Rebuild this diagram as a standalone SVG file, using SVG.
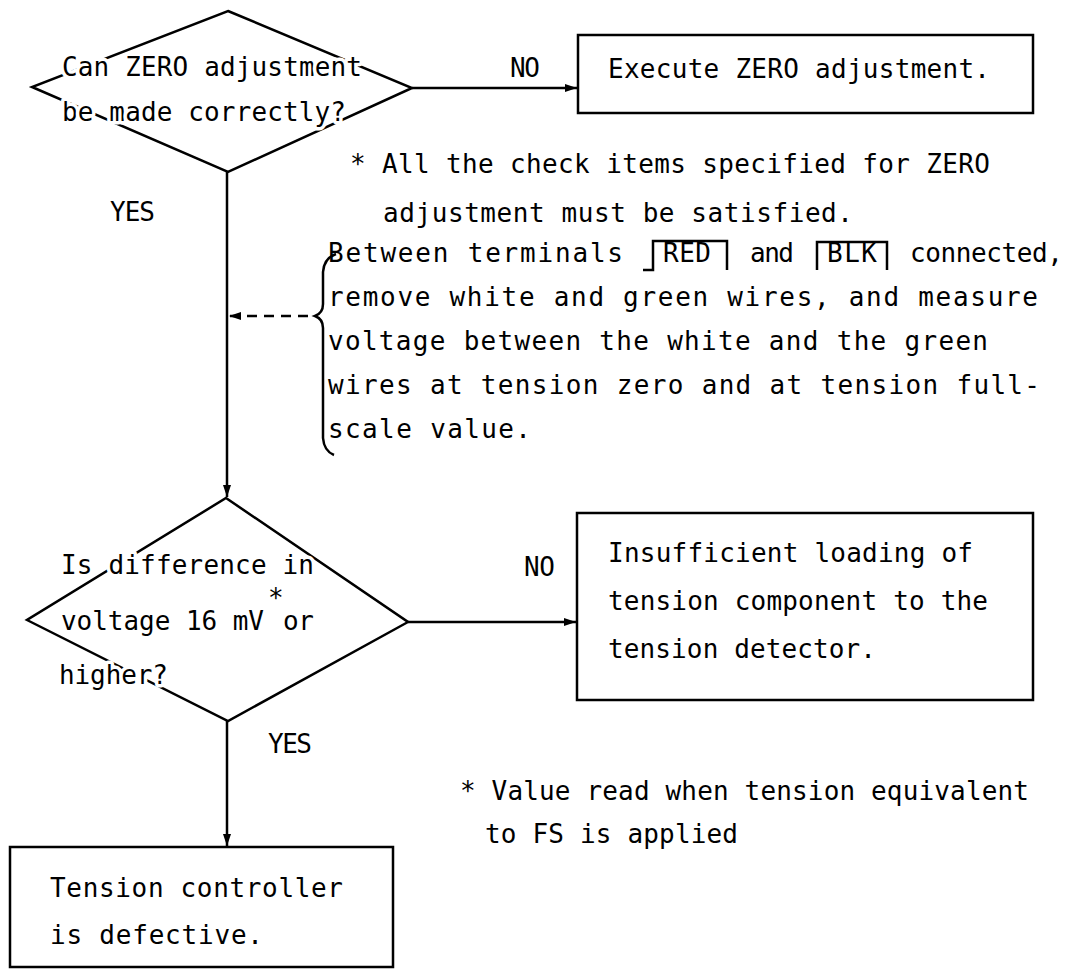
<svg xmlns="http://www.w3.org/2000/svg" width="1077" height="970" viewBox="0 0 1077 970">
<style>
.t{font-family:"DejaVu Sans Mono","Liberation Mono",monospace;font-size:26px;fill:#000}
.h{paint-order:stroke;stroke:#fff;stroke-width:7px;stroke-linejoin:round}
.s{stroke:#000;stroke-width:2.5;fill:none}
.b{stroke:#000;stroke-width:2.5;fill:#fff}
</style>
<defs>
<marker id="ah" markerUnits="userSpaceOnUse" markerWidth="12" markerHeight="8" refX="12" refY="4" orient="auto">
<path d="M0,0 L12,4 L0,8 z" fill="#000"/>
</marker>
</defs>
<rect width="1077" height="970" fill="#fff"/>
<g id="connectors">
<line class="s" x1="412" y1="88" x2="577" y2="88" marker-end="url(#ah)"/>
<line class="s" x1="227" y1="172" x2="227" y2="497" marker-end="url(#ah)"/>
<line class="s" x1="308" y1="316" x2="229" y2="316" stroke-dasharray="10,7" marker-end="url(#ah)"/>
<line class="s" x1="408" y1="622" x2="576" y2="622" marker-end="url(#ah)"/>
<line class="s" x1="227" y1="721" x2="227" y2="846" marker-end="url(#ah)"/>
</g>
<g id="d1">
<polygon class="b" points="228,11 412,88 228,172 32,87"/>
<text class="t h" x="62" y="76" textLength="300">Can ZERO adjustment</text>
<text class="t h" x="62" y="121" textLength="284">be made correctly?</text>
</g>
<g id="lbl-no1"><text class="t" x="510" y="77" textLength="30">NO</text></g>
<g id="b1">
<rect class="b" x="578" y="35" width="455" height="78"/>
<text class="t" x="608" y="78" textLength="382">Execute ZERO adjustment.</text>
</g>
<g id="note1">
<text class="t" x="350" y="173" textLength="640">* All the check items specified for ZERO</text>
<text class="t" x="383" y="222" textLength="470">adjustment must be satisfied.</text>
</g>
<g id="lbl-yes1"><text class="t" x="110" y="221" textLength="45">YES</text></g>
<g id="note2">
<path class="s" d="M336,254 Q324,258 323,272 L323,304 Q323,313 315,316 Q323,319 323,328 L323,438 Q324,451 334,455" stroke-width="2"/>
<text class="t" x="328" y="262" textLength="295">Between terminals</text>
<path class="s" d="M643,270 L653,270 L653,241 L727,241 L727,270" stroke-width="2"/>
<text class="t" x="663" y="262" textLength="48">RED</text>
<text class="t" x="750" y="262" textLength="44">and</text>
<path class="s" d="M817,270 L817,242 L887,242 L887,270" stroke-width="2"/>
<text class="t" x="827" y="262" textLength="50">BLK</text>
<text class="t" x="910" y="262" textLength="153">connected,</text>
<text class="t" x="328" y="306" textLength="710">remove white and green wires, and measure</text>
<text class="t" x="328" y="350" textLength="660">voltage between the white and the green</text>
<text class="t" x="328" y="394" textLength="712">wires at tension zero and at tension full-</text>
<text class="t" x="328" y="438" textLength="203">scale value.</text>
</g>
<g id="d2">
<polygon class="b" points="226,498 408,622 228,721 27,620"/>
<text class="t h" x="61" y="574" textLength="253">Is difference in</text>
<text class="t h" x="61" y="630" textLength="203">voltage 16 mV</text>
<text class="t h" x="268" y="607" font-size="22">*</text>
<text class="t h" x="283" y="630" textLength="31">or</text>
<text class="t h" x="59" y="684" textLength="109">higher?</text>
</g>
<g id="lbl-no2"><text class="t" x="524" y="576" textLength="31">NO</text></g>
<g id="b2">
<rect class="b" x="577" y="513" width="456" height="187"/>
<text class="t" x="608" y="562" textLength="365">Insufficient loading of</text>
<text class="t" x="608" y="610" textLength="380">tension component to the</text>
<text class="t" x="608" y="658" textLength="268">tension detector.</text>
</g>
<g id="lbl-yes2"><text class="t" x="268" y="753" textLength="44">YES</text></g>
<g id="note3">
<text class="t" x="460" y="800" textLength="569">* Value read when tension equivalent</text>
<text class="t" x="485" y="843" textLength="253">to FS is applied</text>
</g>
<g id="b3">
<rect class="b" x="10" y="847" width="383" height="120"/>
<text class="t" x="50" y="897" textLength="293">Tension controller</text>
<text class="t" x="50" y="944" textLength="213">is defective.</text>
</g>
</svg>
